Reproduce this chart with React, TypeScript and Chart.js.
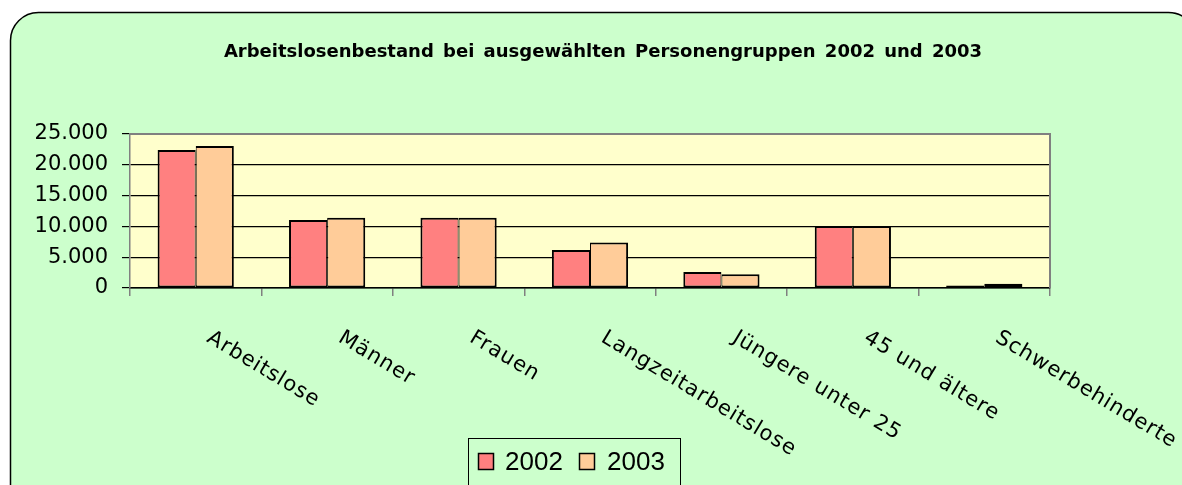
import React, { useEffect, useRef } from 'react';
import { Chart, registerables } from 'chart.js';

Chart.register(...registerables);

const categories = ['Arbeitslose', 'Männer', 'Frauen', 'Langzeitarbeitslose', 'Jüngere unter 25', '45 und ältere', 'Schwerbehinderte'];
const values2002 = [22400, 11050, 11400, 6150, 2600, 10050, 400];
const values2003 = [23050, 11400, 11400, 7400, 2250, 10050, 700];
const seriesLabels = ['2002', '2003'];
const yTickValues = [0, 5000, 10000, 15000, 20000, 25000];
const titleText = 'Arbeitslosenbestand bei ausgewählten Personengruppen 2002 und 2003';

const fmt = (n: number) => String(n).replace(/\B(?=(\d{3})+(?!\d))/g, '.');

const decor = {
  id: 'decor',
  beforeDraw(chart: any) {
    const ctx = chart.ctx;
    const { left, top, right, bottom } = chart.chartArea;
    ctx.save();
    ctx.fillStyle = '#ffffff';
    ctx.fillRect(0, 0, chart.width, chart.height);
    ctx.beginPath();
    ctx.roundRect(10.5, 12.5, 1186, 540, 28);
    ctx.fillStyle = '#CCFFCC';
    ctx.fill();
    ctx.lineWidth = 1.5;
    ctx.strokeStyle = '#000000';
    ctx.stroke();
    ctx.fillStyle = '#FFFFCC';
    ctx.fillRect(left, top, right - left, bottom - top);
    ctx.restore();
  },
  afterDraw(chart: any) {
    const ctx = chart.ctx;
    const { left, top, right, bottom } = chart.chartArea;
    const xs = chart.scales.x;
    ctx.save();
    // plot border top/right
    ctx.strokeStyle = '#808080';
    ctx.lineWidth = 2;
    ctx.beginPath();
    ctx.moveTo(left, top);
    ctx.lineTo(right, top);
    ctx.lineTo(right, bottom);
    ctx.stroke();

    // title
    ctx.fillStyle = '#000000';
    ctx.font = 'bold 18px "DejaVu Sans"';
    (ctx as any).wordSpacing = '3px';
    ctx.textAlign = 'center';
    ctx.textBaseline = 'alphabetic';
    ctx.fillText(titleText, 603, 57);
    (ctx as any).wordSpacing = '0px';

    // x labels
    ctx.font = '21px "DejaVu Sans"';
    (ctx as any).letterSpacing = '1px';
    ctx.textAlign = 'left';
    categories.forEach((c, i) => {
      const cx = xs.getPixelForValue(i);
      ctx.save();
      ctx.translate(cx + 10, 341);
      ctx.rotate((31 * Math.PI) / 180);
      ctx.fillText(c, 0, 0);
      ctx.restore();
    });
    (ctx as any).letterSpacing = '0px';

    // legend
    ctx.strokeStyle = '#000000';
    ctx.lineWidth = 1;
    ctx.strokeRect(468.5, 438.5, 212, 80);
    ctx.font = '26px "Liberation Sans"';
    ctx.textBaseline = 'middle';
    const sx = [478, 579];
    const tx = [505, 607];
    chart.data.datasets.forEach((ds: any, i: number) => {
      ctx.fillStyle = ds.backgroundColor;
      ctx.fillRect(sx[i], 453, 16, 17);
      ctx.lineWidth = 1.5;
      ctx.strokeRect(sx[i] + 0.5, 453.5, 15, 16);
      ctx.fillStyle = '#000000';
      ctx.fillText(ds.label, tx[i], 463);
    });
    ctx.restore();
  },
};

export default function App() {
  const ref = useRef<HTMLCanvasElement>(null);
  useEffect(() => {
    if (!ref.current) return;
    const chart = new Chart(ref.current, {
      type: 'bar',
      data: {
        labels: categories,
        datasets: [
          {
            label: seriesLabels[0],
            data: values2002,
            backgroundColor: '#FF8080',
            borderColor: '#000000',
            borderWidth: { left: 2, top: 2, bottom: 2, right: 1 },
            borderSkipped: false,
            barPercentage: 1,
            categoryPercentage: 0.58,
          },
          {
            label: seriesLabels[1],
            data: values2003,
            backgroundColor: '#FFCC99',
            borderColor: '#000000',
            borderWidth: { left: 1, top: 2, bottom: 2, right: 2 },
            borderSkipped: false,
            barPercentage: 1,
            categoryPercentage: 0.58,
          },
        ],
      },
      options: {
        animation: false,
        responsive: false,
        devicePixelRatio: 1,
        layout: { padding: { left: 0, top: 134, right: 132, bottom: 0 } },
        plugins: { legend: { display: false }, title: { display: false }, tooltip: { enabled: false } },
        scales: {
          x: {
            afterFit: (s: any) => { s.height = 197; },
            ticks: { display: false },
            grid: { drawOnChartArea: false, drawTicks: true, tickLength: 8, color: '#808080', lineWidth: 1.5, offset: true },
            border: { display: true, color: '#000000', width: 1.5 },
          },
          y: {
            min: 0,
            max: 25000,
            afterFit: (s: any) => { s.width = 130; },
            afterBuildTicks: (s: any) => { s.ticks = yTickValues.map((v) => ({ value: v })); },
            ticks: {
              color: '#000000',
              font: { family: '"DejaVu Sans"', size: 21 },
              padding: 14,
              callback: (v: any) => fmt(Number(v)),
            },
            grid: { color: '#000000', lineWidth: 1.2, drawTicks: true, tickLength: 8, tickColor: '#000000' },
            border: { display: true, color: '#808080', width: 1.5 },
          },
        },
      },
      plugins: [decor],
    });
    return () => chart.destroy();
  }, []);
  return (
    <div style={{ position: 'absolute', left: 0, top: 0, width: 1182, height: 485, overflow: 'hidden' }}>
      <canvas ref={ref} width={1182} height={485} style={{ display: 'block' }} />
    </div>
  );
}
